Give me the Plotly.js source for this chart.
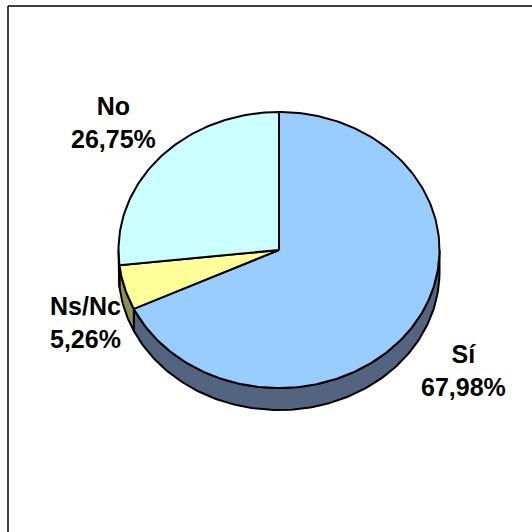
<!DOCTYPE html>
<html>
<head>
<meta charset="utf-8">
<script src="https://cdn.plot.ly/plotly-3.0.1.min.js"></script>
<style>html,body{margin:0;padding:0;background:#fff;}#chart{width:532px;height:532px;}</style>
</head>
<body>
<div id="chart"></div>
<script>
// Data
const labels = ['Sí', 'Ns/Nc', 'No'];
const values = [67.98, 5.26, 26.75];
const topColors = ['#99CCFF', '#FFFF99', '#CCFFFF'];
const sideColors = ['#536480', '#8E8E58', '#7A9999'];

// Geometry (layout only)
const cx = 279, cy = 250, rx = 160.5, ry = 138, depth = 22;
const total = values.reduce((a, b) => a + b, 0);

function pt(phiDeg, dy) {
  const p = phiDeg * Math.PI / 180;
  return [cx + rx * Math.sin(p), cy - ry * Math.cos(p) + (dy || 0)];
}
function arc(a, b, dy) {
  const pts = [];
  const n = Math.max(2, Math.ceil(Math.abs(b - a) / 1));
  for (let i = 0; i <= n; i++) pts.push(pt(a + (b - a) * i / n, dy));
  return pts;
}

const traces = [];
const tops = [];
let start = 0;
values.forEach((v, i) => {
  const end = start + v / total * 360;
  const sa = Math.max(start, 90), sb = Math.min(end, 270);
  if (sb > sa) {
    const upper = arc(sa, sb, 0);
    const lower = arc(sa, sb, depth).reverse();
    const poly = upper.concat(lower);
    poly.push(upper[0]);
    traces.push({
      type: 'scatter', mode: 'lines', fill: 'toself',
      x: poly.map(p => p[0]), y: poly.map(p => p[1]),
      fillcolor: sideColors[i], line: {color: '#000', width: 2},
      hoverinfo: 'skip', showlegend: false
    });
  }
  const a = arc(start, end, 0);
  const poly = [[cx, cy]].concat(a);
  poly.push([cx, cy]);
  tops.push({
    type: 'scatter', mode: 'lines', fill: 'toself',
    x: poly.map(p => p[0]), y: poly.map(p => p[1]),
    fillcolor: topColors[i], line: {color: '#000', width: 2},
    hoverinfo: 'skip', showlegend: false
  });
  start = end;
});

const fmt = v => v.toFixed(2).replace('.', ',') + '%';
const labelPos = [[463, 370], [85, 322], [113, 122]];
const annotations = labels.map((l, i) => ({
  xref: 'x', yref: 'y', x: labelPos[i][0], y: labelPos[i][1],
  text: '<b>' + l + '</b><br><b>' + fmt(values[i]) + '</b>',
  showarrow: false, xanchor: 'center', yanchor: 'middle',
  font: {family: 'Liberation Sans, Arial, sans-serif', size: 25, color: '#000'}
}));

const layout = {
  width: 532, height: 532,
  margin: {l: 0, r: 0, t: 0, b: 0},
  paper_bgcolor: '#fff', plot_bgcolor: '#fff',
  xaxis: {range: [0, 532], visible: false, fixedrange: true},
  yaxis: {range: [532, 0], visible: false, fixedrange: true},
  showlegend: false,
  annotations: annotations,
  shapes: [
    {type: 'line', xref: 'x', yref: 'y', x0: 8, y0: 6, x1: 532, y1: 6, line: {color: '#000', width: 1.5}},
    {type: 'line', xref: 'x', yref: 'y', x0: 8, y0: 6, x1: 8, y1: 532, line: {color: '#000', width: 1.5}}
  ]
};

Plotly.newPlot('chart', traces.concat(tops), layout, {staticPlot: true, displayModeBar: false});
</script>
</body>
</html>
